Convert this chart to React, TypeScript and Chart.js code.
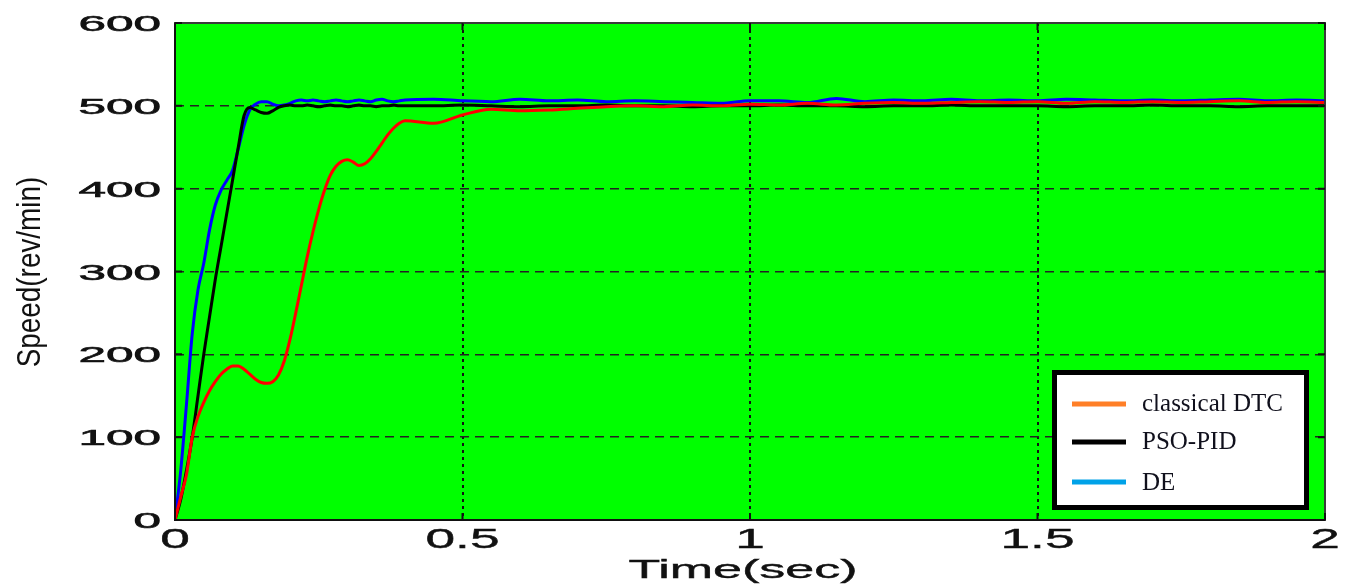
import React, { useEffect, useRef } from 'react';
import { Chart, registerables } from 'chart.js';

Chart.register(...registerables);

// Time axis (s)
const timeSec = [
  0, 0.01, 0.02, 0.03, 0.04, 0.05, 0.06, 0.07, 0.08, 0.09,
  0.10, 0.11, 0.12, 0.13, 0.14, 0.15, 0.16, 0.17, 0.18, 0.19,
  0.20, 0.21, 0.22, 0.23, 0.24, 0.25, 0.26, 0.27, 0.28, 0.29,
  0.30, 0.31, 0.32, 0.33, 0.34, 0.35, 0.36, 0.37, 0.38, 0.39, 0.40,
  0.45, 0.50, 0.55, 0.60, 0.65, 0.70, 0.75, 0.80, 0.85, 0.90, 0.95,
  1.00, 1.05, 1.10, 1.15, 1.20, 1.25, 1.30, 1.35, 1.40, 1.45,
  1.50, 1.55, 1.60, 1.65, 1.70, 1.75, 1.80, 1.85, 1.90, 1.95, 2.00,
];

// Speed (rev/min)
const classicalDTC = [
  0, 28, 55, 100, 125, 142, 156, 167, 176, 182,
  186, 186, 182, 176, 170, 166, 165, 167, 175, 192,
  218, 250, 284, 318, 348, 375, 398, 416, 427, 433,
  435, 432, 428, 430, 436, 445, 455, 465, 473, 479, 482,
  479, 489, 496, 494, 495, 497, 499, 500, 499, 501, 500,
  502, 501, 503, 501, 503, 504, 503, 504, 505, 504,
  505, 503, 505, 504, 505, 504, 505, 506, 504, 505, 504,
];

const psoPID = [
  0, 25, 60, 100, 150, 200, 245, 290, 330, 370,
  410, 450, 488, 498, 495, 492, 491, 494, 498, 500,
  501, 500, 500, 501, 500, 499, 500, 501, 500, 500,
  499, 500, 501, 500, 500, 499, 500, 500, 501, 500, 500,
  500, 501, 500, 499, 500, 500, 501, 500, 500, 499, 500,
  500, 501, 500, 500, 499, 500, 500, 501, 500, 500,
  500, 499, 500, 500, 501, 500, 500, 499, 500, 500, 500,
];

const deSpeed = [
  0, 60, 140, 225, 278, 310, 350, 380, 398, 410,
  422, 448, 476, 495, 502, 505, 505, 502, 500, 501,
  503, 506, 507, 506, 507, 506, 505, 506, 507, 506,
  505, 506, 507, 506, 505, 507, 508, 506, 505, 506, 507,
  508, 506, 505, 508, 506, 507, 505, 506, 505, 504, 503,
  506, 506, 504, 509, 505, 507, 506, 508, 506, 507,
  506, 508, 507, 506, 507, 506, 507, 508, 506, 507, 506,
];

const seriesLabels = ['classical DTC', 'PSO-PID', 'DE'];
const lineColors = ['#ff0000', '#000000', '#0000ff'];
const legendColors = ['#ff7f27', '#000000', '#00a2e8'];
const xTitle = 'Time(sec)';
const yTitle = 'Speed(rev/min)';

function stretchedText(
  ctx: CanvasRenderingContext2D,
  text: string,
  x: number,
  y: number,
  align: CanvasTextAlign,
  font: string,
  sx: number,
  heavy = 0,
) {
  ctx.save();
  ctx.translate(x, y);
  ctx.scale(sx, 1);
  ctx.font = font;
  ctx.textAlign = align;
  ctx.textBaseline = 'alphabetic';
  ctx.fillStyle = '#111111';
  ctx.fillText(text, 0, 0);
  if (heavy > 0) {
    ctx.lineWidth = heavy;
    ctx.strokeStyle = '#111111';
    ctx.strokeText(text, 0, 0);
  }
  ctx.restore();
}

const decorPlugin = {
  id: 'decor',
  beforeDraw(chart: any) {
    const { ctx, chartArea: a } = chart;
    ctx.save();
    ctx.fillStyle = '#00ff00';
    ctx.fillRect(a.left, a.top, a.right - a.left, a.bottom - a.top);
    ctx.restore();
  },
  afterDraw(chart: any) {
    const { ctx, chartArea: a } = chart;
    const xs = chart.scales.x;
    const ys = chart.scales.y;

    // frame
    ctx.save();
    ctx.lineWidth = 2;
    ctx.strokeStyle = '#3a3a3a';
    ctx.strokeRect(a.left, a.top, a.right - a.left, a.bottom - a.top);
    ctx.strokeStyle = '#111111';
    ctx.beginPath();
    ctx.moveTo(a.left, a.top);
    ctx.lineTo(a.left, a.bottom);
    ctx.lineTo(a.right, a.bottom);
    ctx.stroke();

    // inward ticks
    ctx.lineWidth = 2;
    ctx.strokeStyle = '#111111';
    ctx.beginPath();
    xs.ticks.forEach((t: any) => {
      const px = xs.getPixelForValue(t.value);
      ctx.moveTo(px, a.bottom);
      ctx.lineTo(px, a.bottom - 7);
      ctx.moveTo(px, a.top);
      ctx.lineTo(px, a.top + 7);
    });
    ys.ticks.forEach((t: any) => {
      const py = ys.getPixelForValue(t.value);
      ctx.moveTo(a.left, py);
      ctx.lineTo(a.left + 7, py);
      ctx.moveTo(a.right, py);
      ctx.lineTo(a.right - 7, py);
    });
    ctx.stroke();
    ctx.restore();

    // tick labels
    const fam = '"Liberation Sans", Arial, sans-serif';
    ys.ticks.forEach((t: any) => {
      const py = ys.getPixelForValue(t.value);
      stretchedText(ctx, String(t.value), 161, py + 8, 'right', `22px ${fam}`, 2.25, 0.6);
    });
    xs.ticks.forEach((t: any) => {
      const px = xs.getPixelForValue(t.value);
      stretchedText(ctx, String(t.value), px, 548, 'center', `28px ${fam}`, 1.9, 0.4);
    });

    // axis titles
    stretchedText(ctx, xTitle, 743, 578, 'center', `26px ${fam}`, 2.0, 0.4);
    ctx.save();
    ctx.translate(40, 272);
    ctx.rotate(-Math.PI / 2);
    ctx.scale(0.82, 1);
    ctx.font = `34px ${fam}`;
    ctx.textAlign = 'center';
    ctx.textBaseline = 'alphabetic';
    ctx.fillStyle = '#111111';
    ctx.fillText(yTitle, 0, 0);
    ctx.restore();

    // legend
    ctx.save();
    ctx.fillStyle = '#ffffff';
    ctx.fillRect(1054, 372, 253, 136);
    ctx.lineWidth = 5;
    ctx.strokeStyle = '#000000';
    ctx.strokeRect(1054.5, 372.5, 252, 135);
    const rowsY = [404, 442, 482];
    const baseY = [411, 449, 490];
    chart.data.datasets.forEach((ds: any, i: number) => {
      ctx.lineWidth = 5;
      ctx.strokeStyle = legendColors[i];
      ctx.beginPath();
      ctx.moveTo(1072, rowsY[i]);
      ctx.lineTo(1126, rowsY[i]);
      ctx.stroke();
      ctx.font = '25px "Liberation Serif", "Times New Roman", serif';
      ctx.fillStyle = '#10101c';
      ctx.textAlign = 'left';
      ctx.textBaseline = 'alphabetic';
      ctx.fillText(ds.label, 1142, baseY[i]);
    });
    ctx.restore();
  },
};

export default function App() {
  const canvasRef = useRef<HTMLCanvasElement | null>(null);

  useEffect(() => {
    if (!canvasRef.current) return;
    const series = [classicalDTC, psoPID, deSpeed];
    const chart = new Chart(canvasRef.current, {
      type: 'line',
      data: {
        datasets: series.map((vals, i) => ({
          label: seriesLabels[i],
          data: timeSec.map((t, j) => ({ x: t, y: vals[j] })),
          borderColor: lineColors[i],
          backgroundColor: lineColors[i],
          borderWidth: 3,
          pointRadius: 0,
          cubicInterpolationMode: 'monotone' as const,
          fill: false,
        })),
      },
      options: {
        animation: false,
        responsive: true,
        maintainAspectRatio: false,
        layout: { padding: { top: 23, right: 23, left: 0, bottom: 0 } },
        plugins: { legend: { display: false }, tooltip: { enabled: false } },
        scales: {
          x: {
            type: 'linear',
            min: 0,
            max: 2,
            ticks: { stepSize: 0.5, display: false },
            grid: {
              drawTicks: false,
              lineWidth: 2,
              color: (c: any) =>
                c.tick && (c.tick.value === 0 || c.tick.value === 2) ? 'rgba(0,0,0,0)' : '#111111',
            },
            border: { display: false, dash: [3, 4] },
            afterFit: (s: any) => {
              s.height = 66;
            },
          },
          y: {
            type: 'linear',
            min: 0,
            max: 600,
            ticks: { stepSize: 100, display: false },
            grid: {
              drawTicks: false,
              lineWidth: 1.5,
              color: (c: any) =>
                c.tick && (c.tick.value === 0 || c.tick.value === 600) ? 'rgba(0,0,0,0)' : '#222222',
            },
            border: { display: false, dash: [9, 6] },
            afterFit: (s: any) => {
              s.width = 175;
            },
          },
        },
      },
      plugins: [decorPlugin],
    });
    return () => chart.destroy();
  }, []);

  return (
    <div style={{ position: 'absolute', left: 0, top: 0, width: 1348, height: 586, background: '#ffffff' }}>
      <canvas ref={canvasRef} />
    </div>
  );
}
